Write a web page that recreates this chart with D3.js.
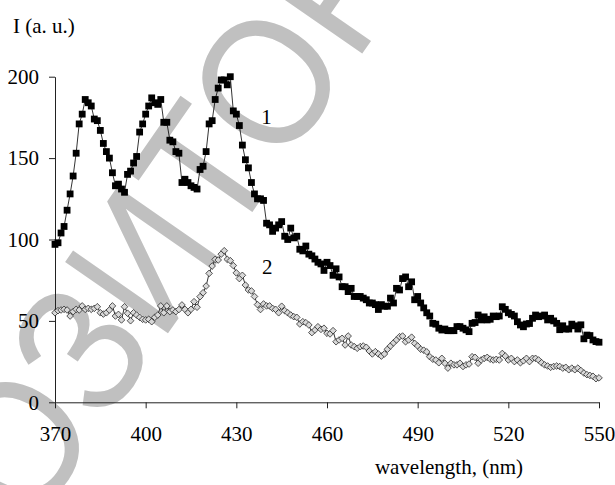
<!DOCTYPE html>
<html lang="en">
<head>
<meta charset="UTF-8">
<title>I (a. u.) vs wavelength</title>
<script src="https://d3js.org/d3.v7.min.js"></script>
<style>
  body { margin: 0; background: #fff; }
  svg text { font-family: "Liberation Serif", "Times New Roman", serif; }
</style>
</head>
<body>
<div id="chart"></div>
<script>
// wavelengths, 1 nm step
const wavelength = d3.range(370, 551);

// curve 1 (filled squares)
const series1 = [
  97, 98, 104, 108, 118, 128, 139, 153, 171, 177,
  186, 184, 182, 174, 173, 167, 159, 154, 150, 141,
  133, 134, 131, 129, 140, 142, 147, 151, 166, 171,
  177, 182, 187, 184, 183, 186, 172, 172, 161, 160,
  154, 153, 135, 137, 135, 133, 132, 131, 143, 145,
  154, 171, 173, 186, 193, 198, 198, 195, 200, 179,
  177, 170, 158, 149, 144, 135, 128, 125, 125, 124,
  110, 109, 105, 107, 109, 111, 102, 100, 107, 101,
  102, 94, 93, 96, 91, 90, 88, 86, 85, 81,
  86, 84, 78, 82, 77, 71, 71, 68, 70, 65,
  65, 65, 64, 63, 61, 61, 60, 57, 60, 59,
  59, 64, 61, 70, 69, 76, 77, 71, 74, 63,
  65, 61, 58, 55, 53, 48.5, 48, 45.5, 44.4, 45,
  44, 44, 44, 46.5, 46.5, 45.5, 44.5, 43.4, 48.5, 49,
  53.6, 50.6, 52.5, 50.6, 51, 53, 52.6, 53, 58.7, 57.1,
  55, 54, 53, 49.5, 47.5, 46.4, 48.1, 48.4, 51.6, 53.6,
  52.6, 53, 53.6, 50.6, 51.6, 50, 48.5, 44.6, 47, 45,
  45, 48, 47, 45, 47.6, 39, 41.3, 41, 38.3, 37.3,
  36.9
];

// curve 2 (open diamonds)
const series2 = [
  55, 56.3, 56.7, 57.1, 56.7, 53, 55.7, 57.1, 56.7, 59.2,
  57.1, 57.7, 57.1, 57.7, 58.7, 55, 54.2, 55, 56.7, 59.2,
  53, 54, 50.6, 58.7, 54.7, 50.1, 55, 53.6, 52.2, 51,
  50.6, 51, 49.5, 52.2, 53.6, 59.2, 55, 59.2, 55.7, 56.7,
  55.7, 57, 59.8, 57.1, 55, 57.1, 61.8, 58.4, 64.9, 67.3,
  71.4, 79.2, 83.7, 87.8, 87.4, 91, 93.1, 87.8, 87, 84,
  79.5, 76, 78, 72, 69, 68.4, 65, 60, 57, 60.4,
  59.2, 59.2, 57.7, 57.1, 55, 59, 56.3, 55, 53.6, 52.6,
  52.2, 48.1, 49.5, 48.9, 47.5, 42.8, 44.4, 46.4, 44.8, 45.5,
  42.4, 42, 44, 37.2, 38.3, 39.3, 35.2, 40.7, 35.2, 34.2,
  33.2, 34.2, 34.6, 33.8, 31.5, 29.7, 31.1, 29.7, 28.4, 29.7,
  32.6, 34.6, 36.5, 38.3, 40.3, 40.7, 37.2, 38.3, 40, 36.2,
  34.6, 32.6, 32, 31, 28, 26.5, 26, 24.3, 27, 24,
  21, 24, 23, 23, 24, 22, 23, 23.5, 28, 27.6,
  24, 26, 27, 27.6, 26.5, 26, 26.4, 26, 30, 28.4,
  26, 27, 25, 26, 24.3, 25.5, 27, 25, 27, 27,
  26, 24.3, 23, 22.3, 21.5, 22, 22.3, 22, 21, 21.5,
  20, 21, 20, 21, 19.5, 18, 17, 16.5, 16, 14.5,
  15
];

const xTicks = [370, 400, 430, 460, 490, 520, 550];
const yTicks = [0, 50, 100, 150, 200];
const watermark = "РЕПОЗИТОРИЙ";

const W = 615, H = 485;
const margin = { top: 76.7, right: 16, bottom: 82.7, left: 55 };
const width = W - margin.left - margin.right;
const height = H - margin.top - margin.bottom;

const svg = d3.select("#chart").append("svg")
  .attr("width", W)
  .attr("height", H);

// grey watermark underneath everything:
// fit it so that "З" and the following "О" sit where they are in the scan
const wmSize = 182;
const wm = svg.append("text")
  .attr("fill", "#c0c0c0")
  .style("font-family", "'Liberation Sans', Arial, sans-serif")
  .attr("font-size", wmSize)
  .attr("y", wmSize * 0.36)
  .text(watermark);
const node = wm.node();
const ez = node.getExtentOfChar(4), eo = node.getExtentOfChar(7);
const cz = ez.x + ez.width / 2, co = eo.x + eo.width / 2;
const pZ = [78, 348], pO = [264, 80];
const dx = pO[0] - pZ[0], dy = pO[1] - pZ[1];
const ang = Math.atan2(dy, dx) * 180 / Math.PI;
const sc = Math.hypot(dx, dy) / (co - cz);
wm.attr("x", -cz)
  .attr("transform", `translate(${pZ[0]},${pZ[1]}) rotate(${ang}) scale(${sc},1)`);

const g = svg.append("g")
  .attr("transform", `translate(${margin.left},${margin.top})`);

const x = d3.scaleLinear().domain([370, 550]).range([0, width]);
const y = d3.scaleLinear().domain([0, 200]).range([height, 0]);

// axes
const xAxis = g.append("g")
  .attr("transform", `translate(0,${height})`)
  .call(d3.axisBottom(x).tickValues(xTicks).tickSize(6).tickPadding(14).tickSizeOuter(0));
const yAxis = g.append("g")
  .call(d3.axisLeft(y).tickValues(yTicks).tickSize(6).tickPadding(10).tickSizeOuter(0));

[xAxis, yAxis].forEach(a => {
  a.select(".domain").attr("stroke", "#222");
  a.selectAll(".tick line").attr("stroke", "#222");
  a.selectAll("text")
    .attr("fill", "#000")
    .style("font-family", "'Liberation Serif', 'Times New Roman', serif")
    .attr("font-size", 21);
});
xAxis.selectAll("text").attr("dy", "0.9em");

// lines
const line = vals => d3.line()
  .x((d, i) => x(wavelength[i]))
  .y(d => y(d))(vals);

g.append("path")
  .attr("d", line(series2))
  .attr("fill", "none")
  .attr("stroke", "#000")
  .attr("stroke-width", 0.8);

g.append("path")
  .attr("d", line(series1))
  .attr("fill", "none")
  .attr("stroke", "#000")
  .attr("stroke-width", 0.8);

// markers
const diamond = d3.symbol().type(d3.symbolDiamond2).size(28);
g.selectAll(".m2")
  .data(series2)
  .join("path")
  .attr("class", "m2")
  .attr("transform", (d, i) => `translate(${x(wavelength[i])},${y(d)})`)
  .attr("d", diamond)
  .attr("fill", "#d8d8d8")
  .attr("stroke", "#111")
  .attr("stroke-width", 0.7);

g.selectAll(".m1")
  .data(series1)
  .join("rect")
  .attr("class", "m1")
  .attr("x", (d, i) => x(wavelength[i]) - 3.4)
  .attr("y", d => y(d) - 3.4)
  .attr("width", 6.8)
  .attr("height", 6.8)
  .attr("fill", "#000");

// curve numbers
g.append("text")
  .attr("x", x(440))
  .attr("y", y(171))
  .attr("text-anchor", "middle")
  .attr("font-size", 21)
  .text("1");
g.append("text")
  .attr("x", x(440.2))
  .attr("y", y(79))
  .attr("text-anchor", "middle")
  .attr("font-size", 21)
  .text("2");

// axis titles
svg.append("text")
  .attr("x", 13)
  .attr("y", 33)
  .attr("font-size", 21)
  .text("I (a. u.)");
svg.append("text")
  .attr("x", 523)
  .attr("y", 474)
  .attr("text-anchor", "end")
  .attr("font-size", 21)
  .text("wavelength, (nm)");
</script>
</body>
</html>
